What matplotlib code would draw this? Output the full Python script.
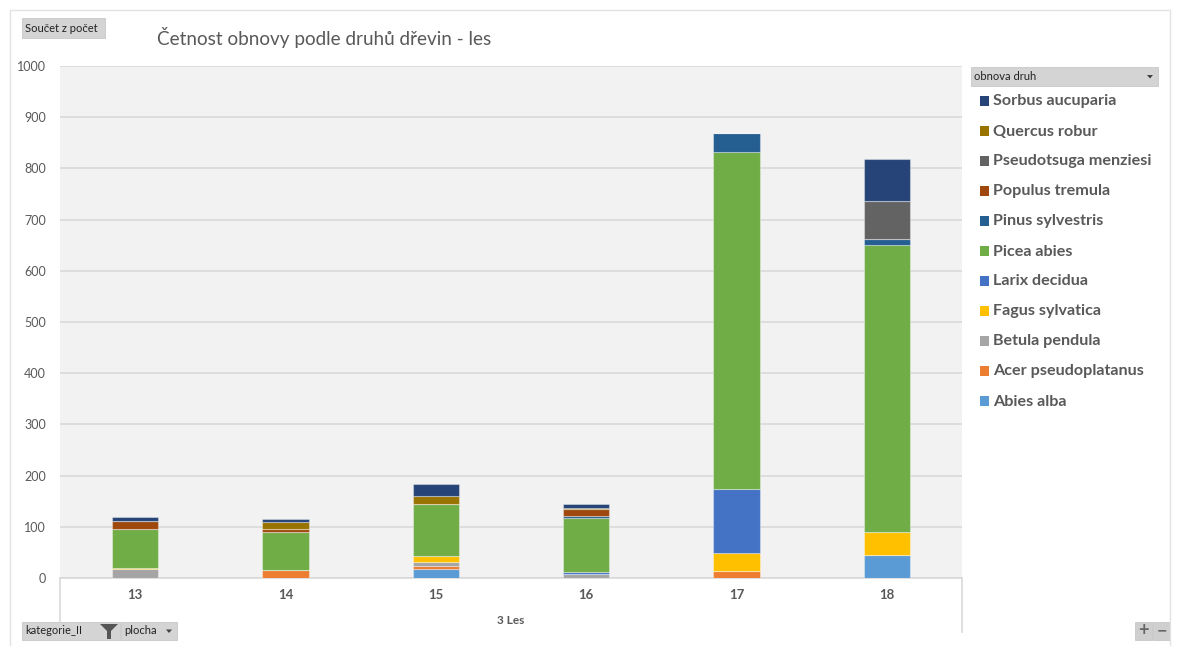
import matplotlib
matplotlib.use("Agg")
import matplotlib.pyplot as plt
from matplotlib.patches import Rectangle, Polygon
import numpy as np

plt.rcParams['font.family'] = ['Lato', 'DejaVu Sans']

# data
plochy = ["13", "14", "15", "16", "17", "18"]
druhy = ["Abies alba", "Acer pseudoplatanus", "Betula pendula", "Fagus sylvatica",
         "Larix decidua", "Picea abies", "Pinus sylvestris", "Populus tremula",
         "Pseudotsuga menziesi", "Quercus robur", "Sorbus aucuparia"]
barvy = ["#5B9BD5", "#ED7D31", "#A5A5A5", "#FFC000", "#4472C4", "#70AD47",
         "#255E91", "#9E480E", "#636363", "#997300", "#264478"]

abies_alba = [0, 0, 17, 0, 0, 45]
acer_pseudoplatanus = [0, 16, 6, 0, 14, 0]
betula_pendula = [17, 0, 8, 7, 0, 0]
fagus_sylvatica = [2, 0, 11, 0, 34, 45]
larix_decidua = [0, 0, 0, 4, 126, 0]
picea_abies = [77, 74, 103, 107, 658, 560]
pinus_sylvestris = [0, 0, 0, 4, 38, 13]
populus_tremula = [15, 6, 0, 13, 0, 0]
pseudotsuga_menziesi = [0, 0, 0, 0, 0, 74]
quercus_robur = [0, 13, 16, 2, 0, 0]
sorbus_aucuparia = [8, 6, 23, 8, 0, 82]

serie = [abies_alba, acer_pseudoplatanus, betula_pendula, fagus_sylvatica,
         larix_decidua, picea_abies, pinus_sylvestris, populus_tremula,
         pseudotsuga_menziesi, quercus_robur, sorbus_aucuparia]

W, H = 1180, 646
fig = plt.figure(figsize=(W / 100, H / 100), dpi=100)
fig.patch.set_facecolor("white")

def fx(px):
    return px / W

def fy(py):
    return 1 - py / H

txt = "#595959"
grid = "#D9D9D9"

ax = fig.add_axes([fx(60), fy(578), fx(962) - fx(60), fy(66) - fy(578)])
ax.set_facecolor("#F2F2F2")

x = np.arange(len(plochy))
bottom = np.zeros(len(plochy))
for vals, c in zip(serie, barvy):
    v = np.array(vals, dtype=float)
    ax.bar(x, v, 0.31, bottom=bottom, color=c, edgecolor=(1, 1, 1, 0.35), linewidth=0.8, zorder=3)
    bottom += v

ax.set_xlim(-0.5, len(plochy) - 0.5)
ax.set_ylim(0, 1000)
ax.set_yticks(range(0, 1001, 100))
ax.yaxis.grid(True, color=grid, linewidth=1.2, zorder=0)
ax.tick_params(axis="y", length=0, pad=10, labelsize=9, labelcolor=txt)
ax.set_xticks([])
for s in ["top", "right", "left"]:
    ax.spines[s].set_visible(False)
ax.spines["bottom"].set_color(grid)
ax.spines["bottom"].set_linewidth(1.2)

# category labels below the plot
for i, p in enumerate(plochy):
    xd = fx(60) + (i + 0.5) / len(plochy) * (fx(962) - fx(60))
    fig.text(xd, fy(595), p, ha="center", va="center", fontsize=9.5, fontweight="bold", color=txt)
fig.text(fx(511), fy(620), "3 Les", ha="center", va="center", fontsize=8.5, fontweight="bold", color=txt)
for xp in (60, 962):
    fig.add_artist(plt.Line2D([fx(xp), fx(xp)], [fy(578), fy(632)], color=grid, linewidth=1.2))

# outer frame
fig.add_artist(plt.Line2D([fx(10), fx(10), fx(1170), fx(1170)], [fy(646), fy(10), fy(10), fy(646)],
                          color="#E3E3E3", linewidth=1))

# title
fig.text(fx(157), fy(37), "Četnost obnovy podle druhů dřevin - les", ha="left", va="center",
         fontsize=13.6, color=txt)

def tlacitko(x0, y0, x1, y1, label, arrow=False):
    fig.add_artist(Rectangle((fx(x0), fy(y1)), fx(x1) - fx(x0), fy(y0) - fy(y1),
                             facecolor="#D4D4D4", edgecolor="#C8C8C8", linewidth=0.6))
    fig.text(fx(x0 + 3), fy((y0 + y1) / 2), label, ha="left", va="center", fontsize=8, color="#222222")
    if arrow:
        cx, cy = x1 - 8, (y0 + y1) / 2
        fig.add_artist(Polygon([(fx(cx - 3), fy(cy - 1.5)), (fx(cx + 3), fy(cy - 1.5)), (fx(cx), fy(cy + 2))],
                               closed=True, facecolor="#404040", edgecolor="none"))

tlacitko(22, 18, 105, 38, "Součet z počet")
tlacitko(971, 67, 1158, 86, "obnova druh", arrow=True)
tlacitko(22, 622, 120, 640, "kategorie_II")
tlacitko(121, 622, 177, 640, "plocha", arrow=True)
# filter icon
fig.add_artist(Polygon([(fx(100), fy(624)), (fx(118), fy(624)), (fx(111), fy(631)), (fx(111), fy(639)),
                        (fx(107), fy(639)), (fx(107), fy(631))], closed=True,
                       facecolor="#555555", edgecolor="none"))
# zoom buttons
for bx, sym in ((1135, "+"), (1153, "−")):
    fig.add_artist(Rectangle((fx(bx), fy(640)), fx(17), fy(622) - fy(640),
                             facecolor="#CFCFCF", edgecolor="#C0C0C0", linewidth=0.5))
    fig.text(fx(bx + 8.5), fy(631), sym, ha="center", va="center", fontsize=13,
             fontweight="bold", color="#666666")

# legend (top = last series)
for k, (name, c) in enumerate(zip(druhy[::-1], barvy[::-1])):
    yp = 101 + k * 30
    fig.add_artist(Rectangle((fx(980), fy(yp + 5)), fx(9), fy(yp - 5) - fy(yp + 5),
                             facecolor=c, edgecolor="none"))
    fig.text(fx(993), fy(yp + 0.5), name, ha="left", va="center", fontsize=11.6,
             fontweight="bold", color=txt)

fig.savefig("out.png", dpi=100)
